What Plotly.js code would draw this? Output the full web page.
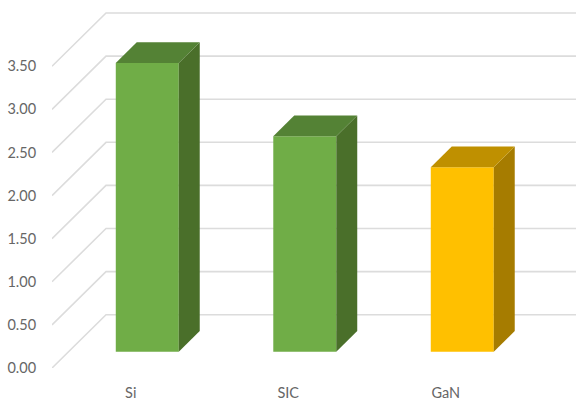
<!DOCTYPE html>
<html>
<head>
<meta charset="utf-8">
<script src="https://cdn.plot.ly/plotly-3.0.1.min.js"></script>
<style>html,body{margin:0;padding:0;background:#fff}#chart{width:576px;height:401px}</style>
</head>
<body>
<div id="chart"></div>
<script>
// Values and labels
var categories = ['Si', 'SIC', 'GaN'];
var values = [3.35, 2.50, 2.14];
var gridValues = [0, 0.5, 1, 1.5, 2, 2.5, 3, 3.5];

// Face colours of each column: front, top, side
var frontColors = ['#70ad47', '#70ad47', '#ffc000'];
var topColors = ['#548235', '#548235', '#bf9000'];
var sideColors = ['#4a6f2a', '#4a6f2a', '#a67c00'];

// Oblique projection: depth 0 is the front of the floor, depth 1 the back wall
var depthX = 0.343, depthY = 0.618;
var barFront = 0.306, barBack = 0.694, halfWidth = 0.2;
var xMin = -0.5, xMax = 2.827;

function skewX(x, d) { return x + d * depthX; }
function skewY(v, d) { return v + d * depthY; }

// Floor and wall rules sit under the columns
var shapes = gridValues.map(function (v) {
  var path = 'M ' + xMin + ' ' + v +
    ' L ' + skewX(xMin, 1) + ' ' + skewY(v, 1) +
    ' L ' + xMax + ' ' + skewY(v, 1);
  return {
    type: 'path', xref: 'x', yref: 'y', layer: 'below', path: path,
    line: { color: '#dcdcdc', width: 1.6 }
  };
});

// Front faces
var traces = [{
  type: 'bar',
  x: categories.map(function (c, i) { return skewX(i, barFront); }),
  y: values,
  base: values.map(function () { return skewY(0, barFront); }),
  width: 2 * halfWidth,
  marker: { color: frontColors, line: { width: 0 } },
  hoverinfo: 'skip', showlegend: false
}];

// Side and top faces
categories.forEach(function (c, i) {
  var l = i - halfWidth, r = i + halfWidth, v = values[i];
  traces.push({
    type: 'scatter', mode: 'lines', fill: 'toself', fillcolor: sideColors[i],
    line: { width: 0 }, hoverinfo: 'skip', showlegend: false,
    x: [skewX(r, barFront), skewX(r, barBack), skewX(r, barBack), skewX(r, barFront)],
    y: [skewY(0, barFront), skewY(0, barBack), skewY(v, barBack), skewY(v, barFront)]
  });
  traces.push({
    type: 'scatter', mode: 'lines', fill: 'toself', fillcolor: topColors[i],
    line: { width: 0 }, hoverinfo: 'skip', showlegend: false,
    x: [skewX(l, barFront), skewX(r, barFront), skewX(r, barBack), skewX(l, barBack)],
    y: [skewY(v, barFront), skewY(v, barFront), skewY(v, barBack), skewY(v, barBack)]
  });
});

var labelFont = { family: 'Lato, "Open Sans", sans-serif', size: 14.5, color: '#666666' };

Plotly.newPlot('chart', traces, {
  width: 576, height: 401,
  margin: { l: 52, r: 0, t: 0, b: 33, pad: 0 },
  paper_bgcolor: '#ffffff', plot_bgcolor: 'rgba(0,0,0,0)',
  shapes: shapes,
  showlegend: false,
  xaxis: {
    type: 'linear', range: [xMin, xMax], showgrid: false, zeroline: false, showline: false,
    tickmode: 'array', tickvals: categories.map(function (c, i) { return i; }), ticktext: categories,
    ticks: 'outside', ticklen: 12, tickcolor: 'rgba(0,0,0,0)', tickfont: labelFont
  },
  yaxis: {
    type: 'linear', range: [0, 4.269], showgrid: false, zeroline: false, showline: false,
    tickmode: 'array', tickvals: gridValues, tickformat: '.2f',
    ticks: 'outside', ticklen: 12, tickcolor: 'rgba(0,0,0,0)', tickfont: labelFont
  }
}, { displayModeBar: false, staticPlot: true });
</script>
</body>
</html>
